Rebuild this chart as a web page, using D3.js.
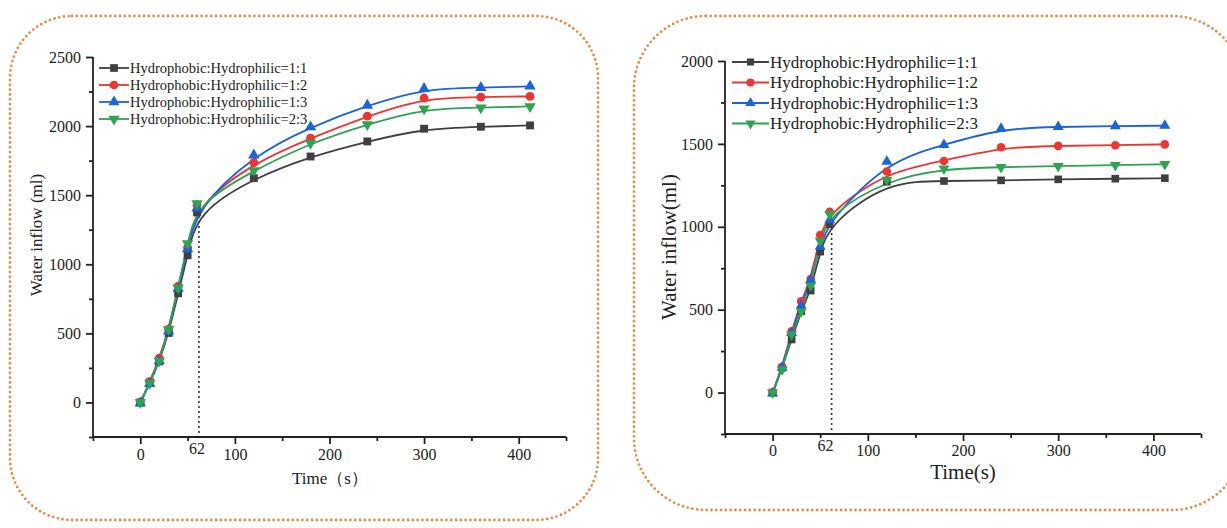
<!DOCTYPE html>
<html lang="en">
<head>
<meta charset="UTF-8">
<title>Water inflow</title>
<script src="https://cdn.jsdelivr.net/npm/d3@7"></script>
<style>
  * { margin: 0; padding: 0; }
  body { background: #fff; }
  svg text { font-family: "Liberation Serif", "Times New Roman", serif; fill: #222; }
  .axis path, .axis line { stroke: #222; stroke-width: 1.8; }
</style>
</head>
<body>
<svg id="chart" width="1227" height="528"></svg>
<script>
"use strict";

// shared x positions (s)
var timePoints = [0, 10, 20, 30, 40, 50, 60, 120, 180, 240, 300, 360, 412];

var seriesNames = [
  "Hydrophobic:Hydrophilic=1:1",
  "Hydrophobic:Hydrophilic=1:2",
  "Hydrophobic:Hydrophilic=1:3",
  "Hydrophobic:Hydrophilic=2:3"
];

// left chart (ml)
var leftRatio11 = [0, 145, 297, 503, 790, 1065, 1375, 1623, 1780, 1889, 1981, 1995, 2005];
var leftRatio12 = [0, 150, 320, 530, 840, 1120, 1430, 1735, 1913, 2072, 2203, 2210, 2215];
var leftRatio13 = [-5, 135, 300, 515, 825, 1110, 1405, 1790, 1993, 2150, 2271, 2278, 2288];
var leftRatio23 = [0, 140, 300, 530, 830, 1150, 1440, 1679, 1877, 2012, 2126, 2133, 2142];

// right chart (ml)
var rightRatio11 = [0, 150, 320, 490, 615, 850, 1015, 1272, 1276, 1280, 1286, 1290, 1293];
var rightRatio12 = [0, 155, 370, 550, 685, 950, 1090, 1333, 1397, 1480, 1488, 1492, 1497];
var rightRatio13 = [-5, 150, 360, 525, 680, 880, 1040, 1393, 1495, 1592, 1603, 1607, 1610];
var rightRatio23 = [0, 140, 350, 490, 645, 915, 1076, 1283, 1350, 1360, 1365, 1372, 1377];

var xMajorTicks = [0, 100, 200, 300, 400];
var xMinorTicks = [-50, 50, 150, 250, 350, 450];
var leftYMajor = [0, 500, 1000, 1500, 2000, 2500];
var leftYMinor = [-250, 250, 750, 1250, 1750, 2250];
var rightYMajor = [0, 500, 1000, 1500, 2000];
var rightYMinor = [-250, 250, 750, 1250, 1750];

var markTime = 62;          // dotted drop line
var markTopLeft = 1400;
var markTopRight = 1010;

var colors = ["#404040", "#ec3535", "#1a63d8", "#2ea352"];
var symbols = ["square", "circle", "triangle", "triangleDown"];
var serif = "Liberation Serif, Times New Roman, serif";

var svg = d3.select("#chart");

// dotted rounded frames
function frame(x, y, w, h, r) {
  svg.append("rect")
    .attr("x", x).attr("y", y).attr("width", w).attr("height", h)
    .attr("rx", r).attr("ry", r)
    .attr("fill", "none")
    .attr("stroke", "#e98a45")
    .attr("stroke-width", 2.8)
    .attr("stroke-linecap", "round")
    .attr("stroke-dasharray", "0 4.8");
}
frame(10, 16, 588, 504, 62);
frame(634, 16, 610, 494, 72);

function markerPath(kind, size) {
  if (kind === "square") return d3.symbol(d3.symbolSquare, size)();
  if (kind === "circle") return d3.symbol(d3.symbolCircle, size)();
  return d3.symbol(d3.symbolTriangle, size * 0.9)();
}

function drawPanel(cfg) {
  var x = d3.scaleLinear().domain([-50, 450]).range(cfg.xRange);
  var y = d3.scaleLinear().domain(cfg.yDomain).range(cfg.yRange);
  var g = svg.append("g");

  var xAxisY = cfg.yRange[0];
  var yAxisX = cfg.xRange[0];

  // minor ticks first, then major ticks with labels
  g.append("g").attr("class", "axis")
    .attr("transform", "translate(0," + xAxisY + ")")
    .call(d3.axisBottom(x).tickValues(xMinorTicks).tickSize(4).tickFormat(""))
    .select(".domain").remove();
  var xa = g.append("g").attr("class", "axis")
    .attr("transform", "translate(0," + xAxisY + ")")
    .attr("font-family", serif)
    .call(d3.axisBottom(x).tickValues(xMajorTicks).tickFormat(d3.format("d"))
      .tickSize(7).tickSizeOuter(0).tickPadding(cfg.xPad));
  xa.select(".domain").attr("d", "M" + cfg.xRange[0] + ",0H" + cfg.xRange[1]);
  xa.selectAll("text").attr("font-size", cfg.tickFont + "px").attr("font-family", serif).attr("fill", "#222");

  g.append("g").attr("class", "axis")
    .attr("transform", "translate(" + yAxisX + ",0)")
    .call(d3.axisLeft(y).tickValues(cfg.yMinor).tickSize(4).tickFormat(""))
    .select(".domain").remove();
  var ya = g.append("g").attr("class", "axis")
    .attr("transform", "translate(" + yAxisX + ",0)")
    .attr("font-family", serif)
    .call(d3.axisLeft(y).tickValues(cfg.yMajor).tickFormat(d3.format("d"))
      .tickSize(7).tickSizeOuter(0).tickPadding(5));
  ya.select(".domain").attr("d", "M0," + cfg.yRange[0] + "V" + cfg.yRange[1]);
  ya.selectAll("text").attr("font-size", cfg.tickFont + "px").attr("font-family", serif).attr("fill", "#222");

  // dotted line at 62 s and its label
  g.append("line")
    .attr("x1", x(markTime)).attr("x2", x(markTime))
    .attr("y1", y(cfg.yDomain[0])).attr("y2", y(cfg.markTop))
    .attr("stroke", "#222").attr("stroke-width", 2)
    .attr("stroke-linecap", "round")
    .attr("stroke-dasharray", "0 5");
  g.append("text")
    .attr("x", x(markTime) + cfg.markDx).attr("y", xAxisY + cfg.markDy)
    .attr("text-anchor", "middle")
    .attr("font-family", serif)
    .attr("font-size", cfg.tickFont + "px")
    .text(markTime);

  // series (B-spline like Origin)
  var line = d3.line().curve(d3.curveBasis)
    .x(function (d) { return x(d[0]); })
    .y(function (d) { return y(d[1]); });

  cfg.series.forEach(function (vals, i) {
    var pts = timePoints.map(function (t, k) { return [t, vals[k]]; });
    g.append("path").datum(pts)
      .attr("d", line)
      .attr("fill", "none")
      .attr("stroke", colors[i])
      .attr("stroke-width", 1.8);
  });
  cfg.series.forEach(function (vals, i) {
    var pts = timePoints.map(function (t, k) { return [t, vals[k]]; });
    g.selectAll(null).data(pts).enter().append("path")
      .attr("d", markerPath(symbols[i], cfg.markerSize))
      .attr("transform", function (d) {
        return "translate(" + x(d[0]) + "," + y(d[1]) + ")" + (symbols[i] === "triangleDown" ? " rotate(180)" : "");
      })
      .attr("fill", colors[i]);
  });

  // legend
  var lg = g.append("g");
  seriesNames.forEach(function (name, i) {
    var ly = cfg.legend.y0 + i * cfg.legend.dy;
    lg.append("line")
      .attr("x1", cfg.legend.x0).attr("x2", cfg.legend.x1)
      .attr("y1", ly).attr("y2", ly)
      .attr("stroke", colors[i]).attr("stroke-width", 1.8);
    lg.append("path")
      .attr("d", markerPath(symbols[i], cfg.legend.markerSize))
      .attr("transform", "translate(" + ((cfg.legend.x0 + cfg.legend.x1) / 2) + "," + ly + ")" + (symbols[i] === "triangleDown" ? " rotate(180)" : ""))
      .attr("fill", colors[i]);
    lg.append("text")
      .attr("x", cfg.legend.x1 + 1).attr("y", ly)
      .attr("dy", "0.35em")
      .attr("font-family", serif)
      .attr("font-size", cfg.legend.font + "px")
      .text(name);
  });

  // axis titles
  g.append("text")
    .attr("x", cfg.xTitle[0]).attr("y", cfg.xTitle[1])
    .attr("text-anchor", "middle")
    .attr("font-family", serif)
    .attr("font-size", cfg.titleFont + "px")
    .text(cfg.xTitleText);
  g.append("text")
    .attr("transform", "translate(" + cfg.yTitle[0] + "," + cfg.yTitle[1] + ") rotate(-90)")
    .attr("text-anchor", "middle")
    .attr("font-family", serif)
    .attr("font-size", cfg.titleFont + "px")
    .text(cfg.yTitleText);
}

drawPanel({
  xRange: [93, 566],
  yDomain: [-250, 2500],
  yRange: [437, 57],
  yMajor: leftYMajor,
  yMinor: leftYMinor,
  tickFont: 16,
  xPad: 5,
  markTop: markTopLeft,
  markDx: -2,
  markDy: 17,
  markerSize: 62,
  series: [leftRatio11, leftRatio12, leftRatio13, leftRatio23],
  legend: { x0: 99, x1: 129, y0: 68, dy: 17, font: 14.5, markerSize: 60 },
  titleFont: 17,
  xTitle: [330, 484],
  xTitleText: "Time（s）",
  yTitle: [42, 235],
  yTitleText: "Water inflow (ml)"
});

drawPanel({
  xRange: [725, 1201],
  yDomain: [-250, 2000],
  yRange: [434, 61],
  yMajor: rightYMajor,
  yMinor: rightYMinor,
  tickFont: 16,
  xPad: 4,
  markTop: markTopRight,
  markDx: -6,
  markDy: 17,
  markerSize: 58,
  series: [rightRatio11, rightRatio12, rightRatio13, rightRatio23],
  legend: { x0: 732, x1: 769, y0: 62, dy: 20.5, font: 17, markerSize: 50 },
  titleFont: 21,
  xTitle: [963, 479],
  xTitleText: "Time(s)",
  yTitle: [676, 247],
  yTitleText: "Water inflow(ml)"
});
</script>
</body>
</html>
